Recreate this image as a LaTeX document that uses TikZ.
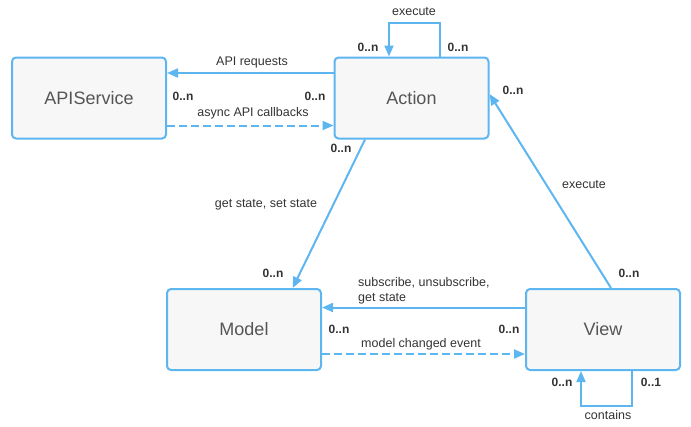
\documentclass[tikz,border=0pt]{standalone}
\usepackage{fontspec}
\setmainfont{Liberation Sans}
\usepackage{tikz}
\usetikzlibrary{positioning,arrows.meta}
\definecolor{umlblue}{RGB}{94,182,240}
\definecolor{boxgray}{RGB}{247,247,247}
\definecolor{txtgray}{RGB}{85,85,85}
\definecolor{lblgray}{RGB}{51,51,51}
\tikzstyle{umlbox} = [rectangle,
    rounded corners=4pt,
    draw=umlblue, line width=2pt,
    fill=boxgray,
    minimum width=154pt,
    minimum height=81pt,
    text=txtgray,
    font=\fontsize{18}{20}\selectfont]
\tikzstyle{arrow} = [draw=umlblue, line width=2pt, -{Triangle[length=11pt,width=9pt]}]

\begin{document}
\begin{tikzpicture}[x=1pt, y=-1pt,
    mult/.style={font=\fontsize{12}{14}\selectfont\bfseries, text=lblgray, inner sep=1pt},
    lbl/.style={font=\fontsize{12.5}{15}\selectfont, text=lblgray, inner sep=1pt},
    async/.style={arrow, dash pattern=on 8pt off 4pt}
    ]
  \useasboundingbox (0,0) rectangle (691,426);
  % the four boxes
  \node [umlbox] (api) at (89,98) {APIService};
  \node [umlbox] (action) at (411.5,98) {Action};
  \node [umlbox] (model) at (244,329.5) {Model};
  \node [umlbox] (view) at (603,329.5) {View};
  % connectors
  \draw [arrow] ([xshift=28.5pt]action.north) -- ++(0,-34) -| ([xshift=-22.5pt]action.north);
  \draw [arrow] ([yshift=25pt]action.west) -- ([yshift=25pt]api.east);
  \draw [async] ([yshift=-27.5pt]api.east) -- ([yshift=-27.5pt]action.west);
  \draw [arrow] ([xshift=-46.5pt]action.south) -- ([xshift=48.7pt]model.north);
  \draw [arrow] ([xshift=8pt]view.north) -- ([yshift=4pt]action.east);
  \draw [arrow] ([yshift=22pt]view.west) -- ([yshift=22pt]model.east);
  \draw [async] ([yshift=-24.5pt]model.east) -- ([yshift=-24.5pt]view.west);
  \draw [arrow] ([xshift=29pt]view.south) -- ++(0,35) -| ([xshift=-22pt]view.south);
  % labels
  \node [lbl] (execTop) at (414,12) {execute};
  \node [lbl] (apiReq) at (252,62) {API requests};
  \node [lbl] (apiCb) at (253,113) {async API callbacks};
  \node [lbl] (getSet) at (266,205) {get state, set state};
  \node [lbl] (execView) at (584,185) {execute};
  \node [lbl, anchor=west, align=left] (subscr) at (357,291) {subscribe, unsubscribe,\\get state};
  \node [lbl] (changed) at (421,344) {model changed event};
  \node [lbl] (contains) at (608,415) {contains};
  % multiplicities
  \node [mult] (mLoopL) at (368,47) {0..n};
  \node [mult] (mLoopR) at (458,47) {0..n};
  \node [mult] (mApi) at (183,96) {0..n};
  \node [mult] (mActW) at (315,96) {0..n};
  \node [mult] (mActS) at (341,148) {0..n};
  \node [mult] (mActE) at (513,90) {0..n};
  \node [mult] (mModN) at (273,273) {0..n};
  \node [mult] (mViewN) at (629,273) {0..n};
  \node [mult] (mModE) at (339,329) {0..n};
  \node [mult] (mViewW) at (509,329) {0..n};
  \node [mult] (mViewL) at (562,382) {0..n};
  \node [mult] (mViewR) at (651,382) {0..1};
\end{tikzpicture}
\end{document}
